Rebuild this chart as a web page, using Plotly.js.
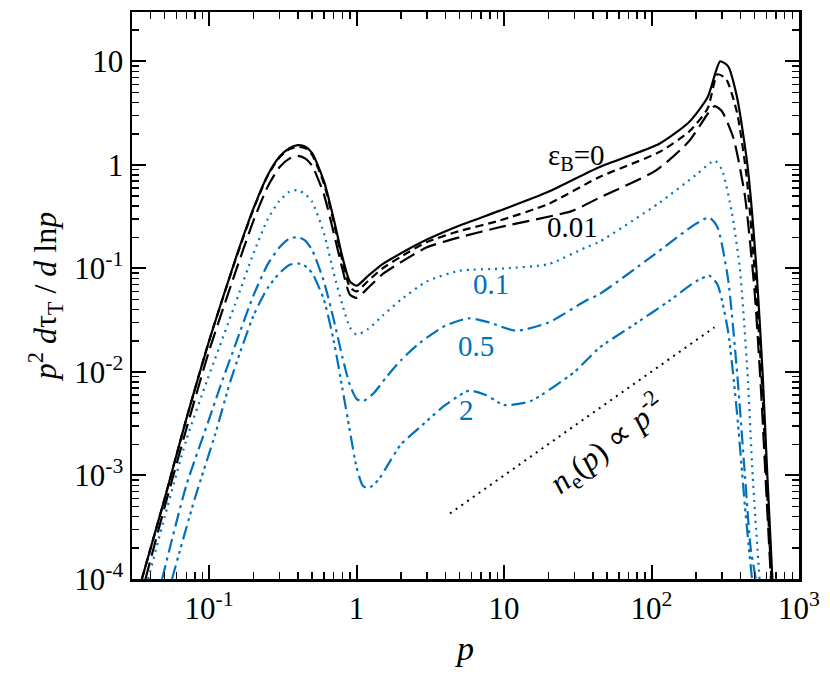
<!DOCTYPE html>
<html>
<head>
<meta charset="utf-8">
<script src="https://cdn.plot.ly/plotly-3.0.1.min.js"></script>
<style>
  body { margin: 0; background: #fff; }
  #plot { width: 830px; height: 682px; }
</style>
</head>
<body>
<div id="plot"></div>
<script>
// momentum grid and curves
var p_eps0 = [0.035, 0.05, 0.07, 0.1, 0.15, 0.2, 0.25, 0.3, 0.35, 0.4, 0.45, 0.5, 0.6, 0.7, 0.8, 0.9, 1.0, 1.2, 1.5, 2, 3, 5, 9.3, 20, 44, 113, 180, 240, 292, 330, 380, 447, 514, 566, 610, 660];
var y_eps0 = [1e-4, 6e-4, 3.5e-3, 0.02, 0.12, 0.38, 0.8, 1.2, 1.45, 1.55, 1.5, 1.3, 0.7, 0.3, 0.13, 0.075, 0.068, 0.085, 0.11, 0.14, 0.19, 0.26, 0.36, 0.55, 0.95, 1.6, 2.6, 4.5, 10, 9, 4.5, 1, 0.1, 0.01, 1e-3, 1e-4];

var p_eps0001 = [0.035, 0.05, 0.07, 0.1, 0.15, 0.2, 0.25, 0.3, 0.35, 0.4, 0.45, 0.5, 0.6, 0.7, 0.8, 0.9, 1.0, 1.2, 1.5, 2, 3, 5, 9.3, 20, 44, 113, 180, 240, 280, 320, 380, 440, 505, 560, 605, 650];
var y_eps0001 = [1e-4, 6e-4, 3.5e-3, 0.02, 0.118, 0.375, 0.79, 1.18, 1.42, 1.5, 1.45, 1.25, 0.66, 0.28, 0.12, 0.066, 0.06, 0.076, 0.1, 0.13, 0.18, 0.23, 0.29, 0.42, 0.76, 1.33, 2.1, 3.5, 7.5, 6.8, 3.2, 0.8, 0.08, 0.008, 8e-4, 1e-4];

var p_eps001 = [0.037, 0.05, 0.07, 0.1, 0.15, 0.2, 0.25, 0.3, 0.35, 0.4, 0.45, 0.5, 0.6, 0.7, 0.8, 0.9, 1.0, 1.2, 1.5, 2, 3, 5, 9.3, 29, 44, 108, 180, 240, 268, 300, 360, 430, 500, 555, 600, 645];
var y_eps001 = [1e-4, 5e-4, 2.8e-3, 0.016, 0.09, 0.29, 0.62, 0.95, 1.15, 1.22, 1.15, 0.98, 0.52, 0.22, 0.1, 0.056, 0.052, 0.065, 0.088, 0.115, 0.16, 0.2, 0.25, 0.36, 0.48, 0.89, 1.7, 3.1, 3.7, 3.3, 1.8, 0.5, 0.06, 0.006, 7e-4, 1e-4];

var p_eps01 = [0.0386, 0.05, 0.07, 0.097, 0.15, 0.2, 0.25, 0.3, 0.35, 0.4, 0.45, 0.5, 0.6, 0.7, 0.8, 0.9, 1.0, 1.2, 1.5, 2, 3, 5, 10, 20, 36, 44, 113, 200, 268, 300, 350, 397, 447, 485, 540];
var y_eps01 = [1e-4, 4e-4, 2.2e-3, 8.3e-3, 0.045, 0.14, 0.3, 0.45, 0.55, 0.57, 0.52, 0.44, 0.22, 0.09, 0.045, 0.027, 0.023, 0.026, 0.035, 0.05, 0.075, 0.095, 0.1, 0.11, 0.16, 0.18, 0.43, 0.8, 1.1, 0.9, 0.35, 0.1, 0.01, 1e-3, 1e-4];

var p_eps05 = [0.048, 0.07, 0.1, 0.123, 0.15, 0.2, 0.25, 0.3, 0.35, 0.4, 0.45, 0.5, 0.6, 0.7, 0.8, 0.9, 1.0, 1.1, 1.3, 1.6, 2.0, 2.67, 4, 5.8, 8, 12, 20, 36, 44, 100, 200, 247, 280, 330, 380, 430, 470, 510];
var y_eps05 = [1e-4, 8e-4, 3.5e-3, 8.3e-3, 0.018, 0.055, 0.11, 0.16, 0.195, 0.2, 0.185, 0.15, 0.075, 0.032, 0.014, 0.0075, 0.0055, 0.0052, 0.0062, 0.009, 0.013, 0.019, 0.028, 0.033, 0.03, 0.025, 0.03, 0.049, 0.056, 0.13, 0.27, 0.31, 0.25, 0.08, 0.01, 1e-3, 2e-4, 1e-4];

var p_eps2 = [0.056, 0.08, 0.11, 0.14, 0.2, 0.25, 0.3, 0.35, 0.4, 0.45, 0.5, 0.6, 0.7, 0.8, 0.9, 1.0, 1.1, 1.2, 1.4, 1.7, 2.0, 2.67, 4, 5.8, 7.5, 10, 15, 30, 44, 80, 133, 200, 247, 280, 330, 380, 430, 480];
var y_eps2 = [1e-4, 6e-4, 2.5e-3, 8.3e-3, 0.035, 0.065, 0.09, 0.108, 0.112, 0.105, 0.09, 0.05, 0.02, 0.007, 0.0027, 0.0012, 0.0008, 0.00075, 0.0009, 0.0014, 0.002, 0.0029, 0.0048, 0.0066, 0.006, 0.0048, 0.0052, 0.01, 0.017, 0.03, 0.049, 0.075, 0.085, 0.07, 0.025, 0.004, 5e-4, 1e-4];

// reference slope n_e(p) ~ p^-2
var p_ref = [4.3, 267];
var y_ref = [4.3e-4, 0.027];

var xTickVals = [0.1, 1, 10, 100, 1000];
var xTickText = ["10<sup>-1</sup>", "1", "10", "10<sup>2</sup>", "10<sup>3</sup>"];
var yTickVals = [1e-4, 1e-3, 1e-2, 0.1, 1, 10];
var yTickText = ["10<sup>-4</sup>", "10<sup>-3</sup>", "10<sup>-2</sup>", "10<sup>-1</sup>", "1", "10"];

var BLUE = "#0072bd";
var serif = "Liberation Serif, Times New Roman, Times, serif";

function minorTicks(lo, hi) {
  var v = [];
  for (var e = lo; e < hi; e++) {
    for (var k = 2; k <= 9; k++) v.push(k * Math.pow(10, e));
  }
  return v;
}

function curve(x, y, color, dash) {
  return {x: x, y: y, type: "scatter", mode: "lines",
    line: {color: color, width: 2.2, dash: dash, shape: "spline", smoothing: 0.6},
    hoverinfo: "skip"};
}

var data = [
  curve(p_eps0, y_eps0, "black", "solid"),
  curve(p_eps0001, y_eps0001, "black", "8px,5px"),
  curve(p_eps001, y_eps001, "black", "17px,7px"),
  curve(p_eps01, y_eps01, BLUE, "2px,5px"),
  curve(p_eps05, y_eps05, BLUE, "14px,5px,3px,5px"),
  curve(p_eps2, y_eps2, BLUE, "14px,5px,3px,4px,3px,4px,3px,5px"),
  {x: p_ref, y: y_ref, type: "scatter", mode: "lines",
    line: {color: "black", width: 2, dash: "2px,5px"}, hoverinfo: "skip"}
];

function lab(px, py, text, color, size, extra) {
  var a = {x: Math.log10(px), y: Math.log10(py), text: text, showarrow: false,
    font: {family: serif, size: size, color: color}};
  for (var k in extra) a[k] = extra[k];
  return a;
}

var layout = {
  width: 830, height: 682,
  margin: {l: 132, r: 31, t: 12, b: 103},
  paper_bgcolor: "white", plot_bgcolor: "white",
  showlegend: false,
  font: {family: serif, size: 28, color: "black"},
  xaxis: {
    type: "log", range: [Math.log10(0.03), 3],
    tickmode: "array", tickvals: xTickVals, ticktext: xTickText,
    ticks: "inside", ticklen: 14, tickwidth: 2, tickcolor: "black",
    minor: {tickmode: "array", tickvals: minorTicks(-2, 3), ticks: "inside", ticklen: 7, tickwidth: 1.5, tickcolor: "black"},
    showline: true, linewidth: 2.5, linecolor: "black", mirror: "allticks",
    showgrid: false, zeroline: false,
    tickfont: {family: serif, size: 31},
    title: {text: "<i>p</i>", font: {family: serif, size: 34}, standoff: 12}
  },
  yaxis: {
    type: "log", range: [-4, Math.log10(30)],
    tickmode: "array", tickvals: yTickVals, ticktext: yTickText,
    ticks: "inside", ticklen: 14, tickwidth: 2, tickcolor: "black",
    minor: {tickmode: "array", tickvals: minorTicks(-4, 2), ticks: "inside", ticklen: 7, tickwidth: 1.5, tickcolor: "black"},
    showline: true, linewidth: 2.5, linecolor: "black", mirror: "allticks",
    showgrid: false, zeroline: false,
    tickfont: {family: serif, size: 31},
    title: {text: "<i>p</i><sup>2</sup> <i>d</i>τ<sub>T</sub> / <i>d</i> ln<i>p</i>", font: {family: serif, size: 32}, standoff: 8}
  },
  annotations: [
    lab(31, 1.2, "ε<sub>B</sub>=0", "black", 29),
    lab(29, 0.25, "0.01", "black", 29),
    lab(8.1, 0.07, "0.1", BLUE, 29),
    lab(6.5, 0.018, "0.5", BLUE, 29),
    lab(5.6, 0.0043, "2", BLUE, 29),
    lab(50, 2.0e-3, "<i>n</i><sub>e</sub>(<i>p</i>) ∝ <i>p</i><sup>-2</sup>", "black", 32, {textangle: -38})
  ]
};

Plotly.newPlot("plot", data, layout, {staticPlot: true});
</script>
</body>
</html>
